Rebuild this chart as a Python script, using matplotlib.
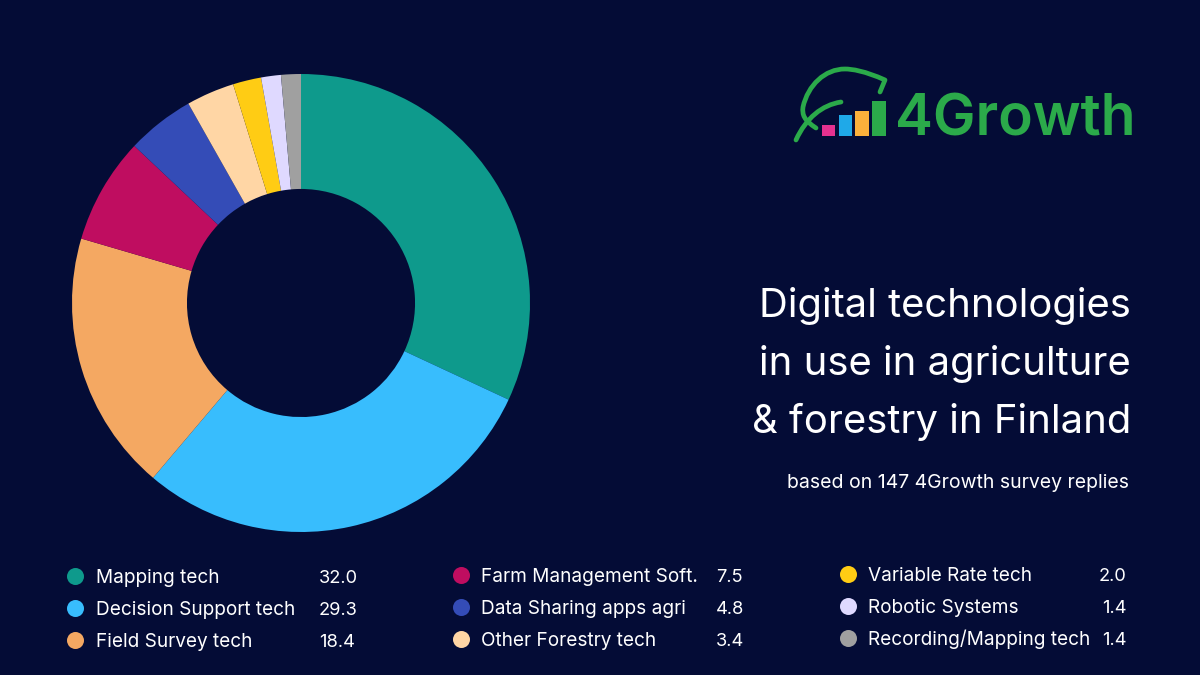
import matplotlib
matplotlib.use("Agg")
import matplotlib.pyplot as plt
from matplotlib.patches import PathPatch, Rectangle
from matplotlib.path import Path

bg = '#040C36'
green = '#2BAA4A'

labels = ['Mapping tech', 'Decision Support tech', 'Field Survey tech',
          'Farm Management Soft.', 'Data Sharing apps agri', 'Other Forestry tech',
          'Variable Rate tech', 'Robotic Systems', 'Recording/Mapping tech']
values = [32.0, 29.3, 18.4, 7.5, 4.8, 3.4, 2.0, 1.4, 1.4]
colors = ['#0E9A8C', '#38BDFD', '#F4A862', '#BF0D60', '#344CB7',
          '#FFD6A5', '#FFCC14', '#DFD9FF', '#A0A0A0']
title_lines = ['Digital technologies', 'in use in agriculture', '& forestry in Finland']
subtitle = 'based on 147 4Growth survey replies'

W, H = 1200, 675
plt.rcParams['font.family'] = ['Inter', 'DejaVu Sans']

fig = plt.figure(figsize=(W / 100, H / 100), dpi=100)
fig.patch.set_facecolor(bg)

# donut, axes placed in pixels
cx, cy, r = 301, 303, 229
ax = fig.add_axes([(cx - r) / W, 1 - (cy + r) / H, 2 * r / W, 2 * r / H])
ax.pie(values, colors=colors, startangle=90, counterclock=False, radius=1,
       wedgeprops=dict(width=0.502, linewidth=0))
ax.set_xlim(-1, 1)
ax.set_ylim(-1, 1)
ax.axis('off')

# overlay in pixel coords for text and logo
ov = fig.add_axes([0, 0, 1, 1])
ov.set_xlim(0, W)
ov.set_ylim(H, 0)
ov.axis('off')
ov.patch.set_alpha(0)

for line, y in zip(title_lines, [317, 375, 433]):
    ov.text(1131, y, line, color='white', fontsize=28.8, ha='right', va='baseline')
ov.text(1129, 488, subtitle, color='white', fontsize=14, ha='right', va='baseline')

# legend
dot_x = [75, 461, 848]
text_x = [96, 481, 868]
val_x = [319, 716, 1127]
val_ha = ['left', 'left', 'right']
row_y = [[576, 608, 640], [575, 607, 639], [574, 606, 638]]
for i in range(len(labels)):
    col, row = i // 3, i % 3
    y = row_y[col][row]
    ov.scatter(dot_x[col], y, s=150, color=colors[i], linewidths=0)
    ov.text(text_x[col], y + 7, labels[i], color='white', fontsize=13.7, va='baseline')
    ov.text(val_x[col], y + 7, f'{values[i]:.1f}', color='white', fontsize=13.2,
            va='baseline', ha=val_ha[col])

# logo
bars = [(822, 125, 13, '#E5318F'), (839, 115, 13, '#1FA9E8'),
        (855, 111, 14, '#FBB03B'), (872, 101, 14, green)]
for x, top, w, c in bars:
    ov.add_patch(Rectangle((x, top), w, 136 - top, color=c, linewidth=0))

leaf = Path([(880, 92), (885, 80),
             (865, 71), (852, 69), (845, 69),
             (825, 69), (808, 85), (803, 107),
             (802, 115), (804, 120), (816, 128)],
            [Path.MOVETO, Path.LINETO] + [Path.CURVE4] * 9)
ov.add_patch(PathPatch(leaf, fill=False, edgecolor=green, linewidth=3.4,
                       capstyle='round', joinstyle='round'))
stem = Path([(796, 140), (806, 118), (822, 105), (841, 102)],
            [Path.MOVETO, Path.CURVE4, Path.CURVE4, Path.CURVE4])
ov.add_patch(PathPatch(stem, fill=False, edgecolor=green, linewidth=3.4, capstyle='round'))
ov.text(895, 135, '4Growth', color=green, fontsize=41, ha='left', va='baseline',
        fontweight='semibold')

fig.savefig('out.png', dpi=100, facecolor=bg)
